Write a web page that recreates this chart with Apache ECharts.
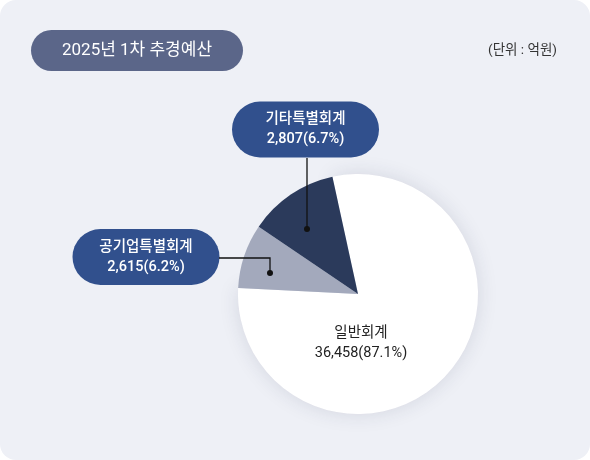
<!DOCTYPE html>
<html>
<head>
<meta charset="utf-8">
<script src="https://cdn.jsdelivr.net/npm/echarts@6/dist/echarts.min.js"></script>
<style>
html,body{margin:0;padding:0;background:#ffffff;}
#c{width:590px;height:460px;background:#eef0f6;border-radius:16px;overflow:hidden;}
</style>
</head>
<body>
<div id="c"></div>
<script>
// Data
const categories = ['일반회계', '공기업특별회계', '기타특별회계'];
const amounts = [36458, 2615, 2807];          // 억원 (label text)
const percents = [87.1, 6.2, 6.7];            // % (label text)
const drawnShare = [79.2, 8.7, 12.1];         // slice sizes as drawn in the picture (%)
const titleText = '2025년 1차 추경예산';
const unitText = '(단위 : 억원)';

const sliceColors = ['#ffffff', '#a3a9bc', '#2b3a5b'];
const FONT = "Roboto, 'Noto Sans CJK KR', sans-serif";

// label layout (positions of the callout boxes and leader lines)
const labelPos = [
  { x: 361, y: 343 },
  { x: 146, y: 257, line: [[270, 273], [270, 258], [219, 258]] },
  { x: 305.5, y: 129.5, line: [[307, 229], [307, 158]] }
];

const chart = echarts.init(document.getElementById('c'), null, { renderer: 'canvas' });

const data = categories.map((name, i) => {
  const item = {
    name: name,
    value: drawnShare[i],
    itemStyle: { color: sliceColors[i] }
  };
  if (i === 0) {
    item.itemStyle.shadowBlur = 20;
    item.itemStyle.shadowColor = 'rgba(40,50,80,0.13)';
    item.label = {
      position: 'inside', color: '#222222', fontSize: 14.5, lineHeight: 20,
      fontFamily: FONT
    };
  } else {
    item.label = {
      position: 'outside', color: '#ffffff', fontSize: 14.5, lineHeight: 20,
      fontFamily: FONT, fontWeight: 500,
      backgroundColor: '#31508d', borderRadius: 28,
      width: 147, align: 'center', padding: [8, 0, 8, 0]
    };
  }
  return item;
});

const leaderGraphics = [];
labelPos.forEach(lp => {
  if (!lp.line) return;
  leaderGraphics.push({ type: 'polyline', shape: { points: lp.line }, style: { stroke: '#111111', lineWidth: 1.3, fill: null }, z: 99 });
  leaderGraphics.push({ type: 'circle', shape: { cx: lp.line[0][0], cy: lp.line[0][1], r: 3 }, style: { fill: '#111111' }, z: 100 });
});

chart.setOption({
  animation: false,
  backgroundColor: 'transparent',
  graphic: [
    { type: 'rect', shape: { x: 31, y: 30, width: 212, height: 41, r: 20.5 }, style: { fill: '#5b6689' } },
    { type: 'text', x: 137, y: 50.5, style: { text: titleText, fill: '#ffffff', font: '17px ' + FONT, align: 'center', verticalAlign: 'middle' } },
    { type: 'text', x: 557, y: 51, style: { text: unitText, fill: '#333333', font: '13.5px ' + FONT, align: 'right', verticalAlign: 'middle' } }
  ].concat(leaderGraphics),
  series: [{
    type: 'pie',
    center: [358, 294],
    radius: [0, 120],
    startAngle: 102.3,
    clockwise: true,
    avoidLabelOverlap: false,
    silent: true,
    itemStyle: { borderWidth: 0 },
    labelLine: { show: false },
    label: {
      show: true,
      formatter: function (p) {
        const i = p.dataIndex;
        return categories[i] + '\n' + amounts[i].toLocaleString('en-US') + '(' + percents[i] + '%)';
      }
    },
    labelLayout: function (params) {
      const lp = labelPos[params.dataIndex];
      return { x: lp.x, y: lp.y, align: 'center', verticalAlign: 'middle' };
    },
    data: data
  }]
});
</script>
</body>
</html>
